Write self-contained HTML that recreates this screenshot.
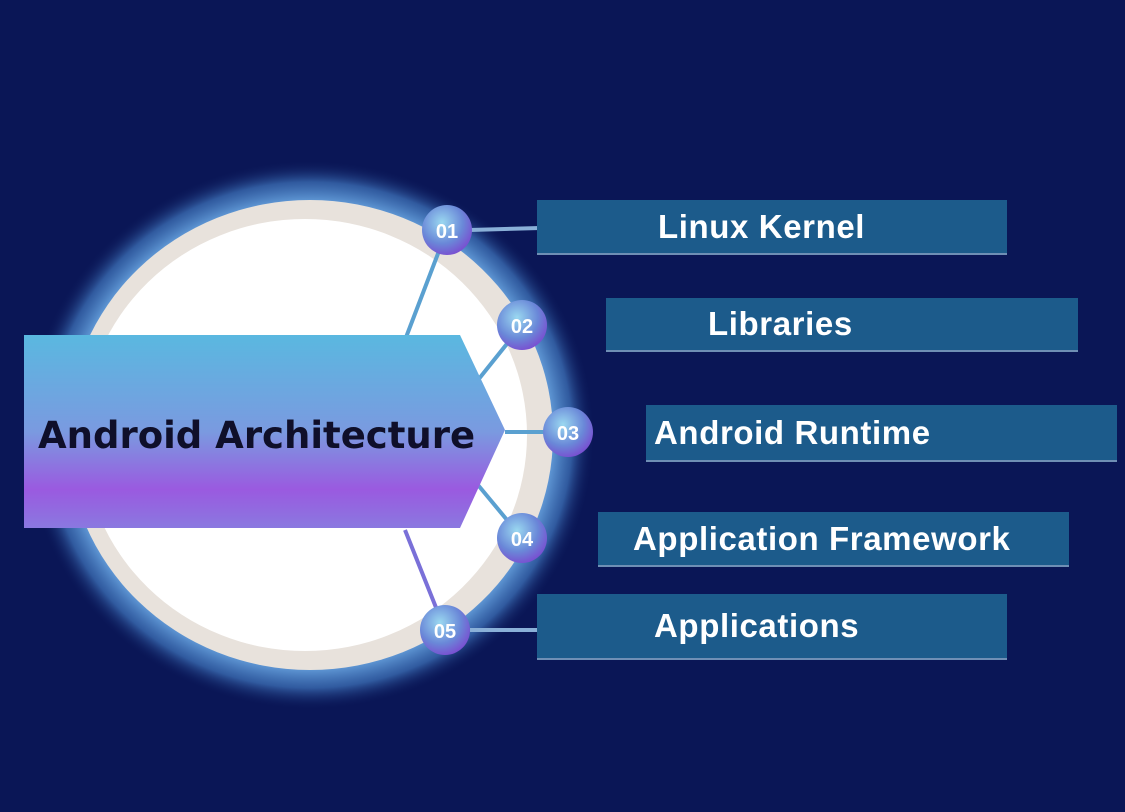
<!DOCTYPE html>
<html><head><meta charset="utf-8"><style>
html,body{margin:0;padding:0}
body{width:1125px;height:812px;background:#0a1656;position:relative;overflow:hidden;font-family:"Liberation Sans",sans-serif}
.box{position:absolute;background:#1c5b8b;color:#fff;font-weight:bold;font-size:33px;letter-spacing:0.6px;display:flex;align-items:center;box-shadow:0 2px 0 #6f8fb5;white-space:nowrap}
</style></head><body>
<svg width="1125" height="812" style="position:absolute;left:0;top:0">
<defs>
<radialGradient id="glow" cx="0.5" cy="0.5" r="0.5">
<stop offset="0.82" stop-color="#7ab8f0" stop-opacity="1"/>
<stop offset="0.92" stop-color="#4a88d0" stop-opacity="0.6"/>
<stop offset="1" stop-color="#0a1656" stop-opacity="0"/>
</radialGradient>
<linearGradient id="ban" x1="0" y1="0" x2="0" y2="1">
<stop offset="0" stop-color="#5ab8e0"/>
<stop offset="0.5" stop-color="#7a9ae0"/>
<stop offset="0.8" stop-color="#9a5ae0"/>
<stop offset="1" stop-color="#8a78e0"/>
</linearGradient>
<radialGradient id="node" cx="0.4" cy="0.35" r="0.7">
<stop offset="0" stop-color="#9ad8f0"/>
<stop offset="0.6" stop-color="#6a88d8"/>
<stop offset="1" stop-color="#7a4ad0"/>
</radialGradient>
</defs>
<ellipse cx="310" cy="435" rx="285" ry="275" fill="url(#glow)"/>
<ellipse cx="310" cy="435" rx="243" ry="235" fill="#e8e2dc"/>
<ellipse cx="305" cy="435" rx="222" ry="216" fill="#ffffff"/>
<g stroke="#5aa0d0" stroke-width="4">
<line x1="447" y1="230" x2="405" y2="340"/>
<line x1="522" y1="325" x2="478" y2="380"/>
<line x1="505" y1="432" x2="568" y2="432"/>
<line x1="522" y1="538" x2="478" y2="485"/>
<line x1="445" y1="630" x2="405" y2="530" stroke="#7a70d8"/>
<line x1="470" y1="230" x2="540" y2="228" stroke="#8ab0d8"/>
<line x1="470" y1="630" x2="540" y2="630" stroke="#8ab0d8"/>
</g>
<polygon points="24,335 460,335 505,430 460,528 24,528" fill="url(#ban)"/>
<g font-family="Liberation Sans,sans-serif" font-weight="bold" font-size="20" fill="#fff" text-anchor="middle">
<circle cx="447" cy="230" r="25" fill="url(#node)"/><text x="447" y="238">01</text>
<circle cx="522" cy="325" r="25" fill="url(#node)"/><text x="522" y="333">02</text>
<circle cx="568" cy="432" r="25" fill="url(#node)"/><text x="568" y="440">03</text>
<circle cx="522" cy="538" r="25" fill="url(#node)"/><text x="522" y="546">04</text>
<circle cx="445" cy="630" r="25" fill="url(#node)"/><text x="445" y="638">05</text>
</g>
<text x="38" y="448" font-family="DejaVu Sans,sans-serif" font-weight="bold" font-size="37" fill="#0f0f2a">Android Architecture</text>
</svg>
<div class="box" style="left:537px;top:200px;width:470px;height:53px;padding-left:121px;box-sizing:border-box">Linux Kernel</div>
<div class="box" style="left:606px;top:298px;width:472px;height:52px;padding-left:102px;box-sizing:border-box">Libraries</div>
<div class="box" style="left:646px;top:405px;width:471px;height:55px;padding-left:8px;box-sizing:border-box">Android Runtime</div>
<div class="box" style="left:598px;top:512px;width:471px;height:53px;padding-left:35px;box-sizing:border-box">Application Framework</div>
<div class="box" style="left:537px;top:594px;width:470px;height:64px;padding-left:117px;box-sizing:border-box">Applications</div>
</body></html>
